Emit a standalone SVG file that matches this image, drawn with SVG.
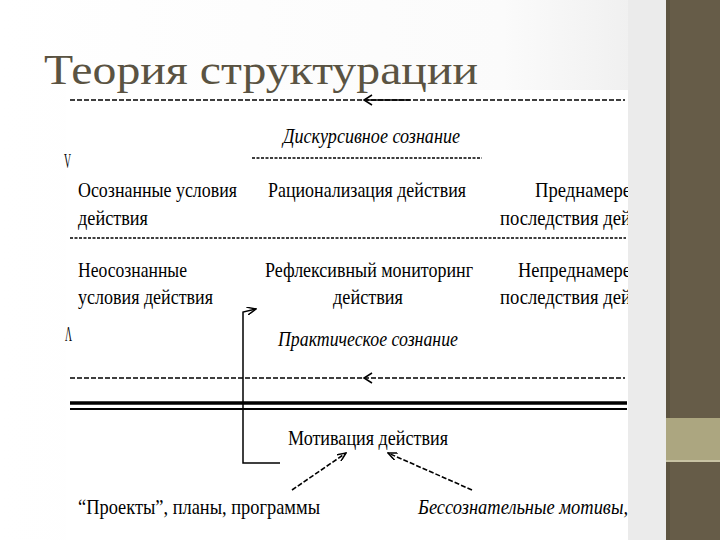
<svg xmlns="http://www.w3.org/2000/svg" width="720" height="540" viewBox="0 0 720 540">
  <defs>
    <linearGradient id="bg" x1="0" y1="0" x2="1" y2="0">
      <stop offset="0" stop-color="#ffffff"/>
      <stop offset="0.7" stop-color="#fbfbfb"/>
      <stop offset="1" stop-color="#e8e8e8"/>
    </linearGradient>
    <clipPath id="clipR">
      <rect x="0" y="0" width="628" height="540"/>
    </clipPath>
    <marker id="ah" markerWidth="10" markerHeight="8" refX="9" refY="4" orient="auto" markerUnits="userSpaceOnUse">
      <path d="M0,0 L9,4 L0,8" fill="none" stroke="#000" stroke-width="1.5"/>
    </marker>
  </defs>
  <style>
    .t { font-family: "Liberation Serif", "DejaVu Serif", serif; font-size: 22px; fill: #000; }
    .i { font-family: "Liberation Serif", "DejaVu Serif", serif; font-size: 21px; font-style: italic; fill: #000; }
    .dash { stroke: #000; stroke-width: 1.6; stroke-dasharray: 5 2; fill: none; }
    .dot { stroke: #000; stroke-width: 1.4; stroke-dasharray: 3 1.5; fill: none; }
    .solid { stroke: #000; stroke-width: 1.5; fill: none; }
  </style>

  <!-- slide background -->
  <rect x="0" y="0" width="720" height="540" fill="url(#bg)"/>
  <rect x="66" y="90" width="562" height="450" fill="#ffffff"/>
  <rect x="628" y="0" width="38" height="540" fill="#ebebeb"/>
  <rect x="666" y="0" width="54" height="540" fill="#665c48"/>
  <rect x="666" y="0" width="4" height="540" fill="#5c5340"/>
  <rect x="666" y="418" width="54" height="42" fill="#aca680"/>
  <rect x="666" y="460" width="54" height="2" fill="#c8c3a4"/>

  <g id="title">
    <text x="44" y="84" font-family="'Liberation Serif', 'DejaVu Serif', serif" font-size="42" fill="#5a5342" textLength="434" lengthAdjust="spacingAndGlyphs">Теория структурации</text>
  </g>

  <g id="connectors">
    <line class="dash" x1="70" y1="100" x2="625" y2="100"/>
    <line class="solid" x1="366" y1="100" x2="410" y2="100"/>
    <path class="solid" d="M372,95 L364,100 L372,105"/>
    <line class="dot" x1="252" y1="158" x2="482" y2="158"/>
    <line class="dot" x1="70" y1="238" x2="626" y2="238"/>
    <line class="dash" x1="70" y1="378" x2="625" y2="378"/>
    <path class="solid" d="M372,373 L364,378 L372,383"/>
    <line x1="70" y1="403" x2="627" y2="403" stroke="#000" stroke-width="3.5"/>
    <line x1="70" y1="409" x2="627" y2="409" stroke="#000" stroke-width="2"/>
    <polyline class="solid" points="280,463 243,463 243,312 256,309" marker-end="url(#ah)"/>
    <line class="dash" x1="292" y1="490" x2="346" y2="453" marker-end="url(#ah)"/>
    <line class="dash" x1="472" y1="490" x2="388" y2="453" marker-end="url(#ah)"/>
  </g>

  <g id="discursive">
    <text class="i" x="283" y="143" textLength="177" lengthAdjust="spacingAndGlyphs">Дискурсивное сознание</text>
  </g>
  <g id="mark-top"><text class="t" x="64" y="168" font-size="15" textLength="7" lengthAdjust="spacingAndGlyphs">V</text></g>
  <g id="mark-bottom"><text class="t" x="65" y="341" font-size="15" textLength="7" lengthAdjust="spacingAndGlyphs">Λ</text></g>

  <g id="conscious-conditions">
    <text class="t" x="78" y="197" textLength="159" lengthAdjust="spacingAndGlyphs">Осознанные условия</text>
    <text class="t" x="78" y="225" textLength="70" lengthAdjust="spacingAndGlyphs">действия</text>
  </g>
  <g id="rationalization">
    <text class="t" x="268" y="197" textLength="198" lengthAdjust="spacingAndGlyphs">Рационализация действия</text>
  </g>
  <g id="intended" clip-path="url(#clipR)">
    <text class="t" x="535" y="197" textLength="96" lengthAdjust="spacingAndGlyphs">Преднамере</text>
    <text class="t" x="500" y="225" textLength="131" lengthAdjust="spacingAndGlyphs">последствия дей</text>
  </g>

  <g id="unconscious-conditions">
    <text class="t" x="78" y="277" textLength="109" lengthAdjust="spacingAndGlyphs">Неосознанные</text>
    <text class="t" x="78" y="304" textLength="135" lengthAdjust="spacingAndGlyphs">условия действия</text>
  </g>
  <g id="reflexive">
    <text class="t" x="265" y="277" textLength="208" lengthAdjust="spacingAndGlyphs">Рефлексивный мониторинг</text>
    <text class="t" x="333" y="304" textLength="70" lengthAdjust="spacingAndGlyphs">действия</text>
  </g>
  <g id="unintended" clip-path="url(#clipR)">
    <text class="t" x="518" y="277" textLength="113" lengthAdjust="spacingAndGlyphs">Непреднамере</text>
    <text class="t" x="500" y="304" textLength="131" lengthAdjust="spacingAndGlyphs">последствия дей</text>
  </g>

  <g id="practical">
    <text class="i" x="278" y="346" textLength="180" lengthAdjust="spacingAndGlyphs">Практическое сознание</text>
  </g>

  <g id="motivation">
    <text class="t" x="288" y="445" textLength="160" lengthAdjust="spacingAndGlyphs">Мотивация действия</text>
  </g>
  <g id="projects">
    <text class="t" x="78" y="514" textLength="242" lengthAdjust="spacingAndGlyphs">“Проекты”, планы, программы</text>
  </g>
  <g id="unconscious-motives" clip-path="url(#clipR)">
    <text class="i" x="418" y="514" textLength="210" lengthAdjust="spacingAndGlyphs">Бессознательные мотивы,</text>
  </g>
</svg>
